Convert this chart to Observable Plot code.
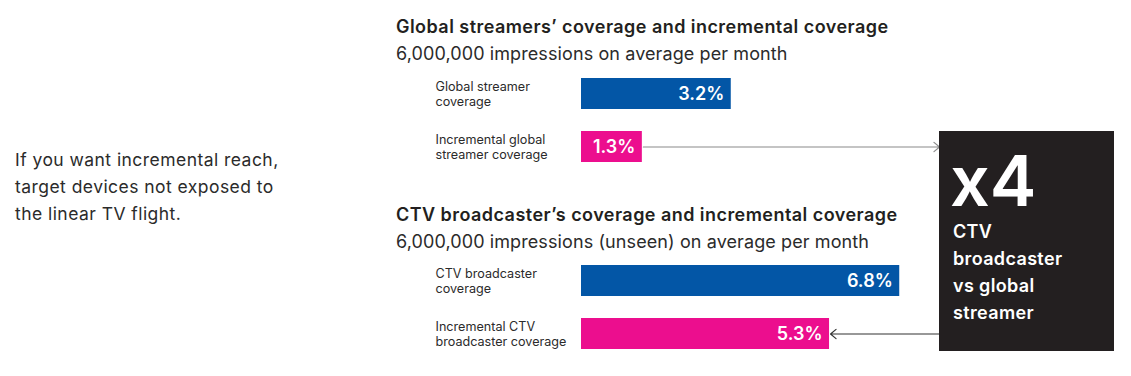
<!DOCTYPE html>
<html>
<head>
<meta charset="utf-8">
<script src="https://cdn.jsdelivr.net/npm/d3@7"></script>
<script src="https://cdn.jsdelivr.net/npm/@observablehq/plot@0.6"></script>
<style>
  html, body { margin: 0; padding: 0; background: #fff; }
  #wrap { position: relative; width: 1131px; height: 376px; overflow: hidden; font-family: Inter, "Noto Sans", sans-serif; color: #231f20; }
  #wrap svg { position: absolute; left: 0; top: 0; }
  .abs { position: absolute; white-space: nowrap; }
  .title { font-weight: 600; font-size: 18px; line-height: 18px; letter-spacing: 0.45px; color: #231f20; }
  .sub { font-weight: 400; font-size: 18px; line-height: 18px; letter-spacing: 0.1px; color: #2b2b2b; }
  .intro { font-size: 17.5px; line-height: 27px; letter-spacing: 0.45px; color: #2b2b2b; }
  #box { position: absolute; background: #231f20; color: #fff; }
  .big { font-weight: 600; font-size: 70px; line-height: 70px; color: #fff; }
  .boxtxt { font-weight: 600; font-size: 18px; line-height: 27px; letter-spacing: 0.35px; color: #fff; }
</style>
</head>
<body>
<div id="wrap"></div>
<script>
// ---- data ----
const groups = ["global", "ctv"];
const groupTitles = ["Global streamers’ coverage and incremental coverage", "CTV broadcaster’s coverage and incremental coverage"];
const groupSubtitles = ["6,000,000 impressions on average per month", "6,000,000 impressions (unseen) on average per month"];
const rowKeys = ["coverage", "incremental"];
const barLabels = ["Global streamer\ncoverage", "Incremental global\nstreamer coverage", "CTV broadcaster\ncoverage", "Incremental CTV\nbroadcaster coverage"];
const values = [3.2, 1.3, 6.8, 5.3];
const introLines = ["If you want incremental reach,", "target devices not exposed to", "the linear TV flight."];
const calloutBig = "x4";
const calloutLines = ["CTV", "broadcaster", "vs global", "streamer"];

// ---- layout ----
const W = 1131, H = 376;
const xOrigin = 581, pxPerUnit = 46.8, xMax = 11;
const box = {left: 939, top: 131, width: 175, height: 220};
const boxValue = (box.left - xOrigin) / pxPerUnit;
const blue = "#0356a6", pink = "#ec0e8e";
const font = "Inter, 'Noto Sans', sans-serif";

const rows = values.map((v, i) => ({
  group: groups[Math.floor(i / 2)],
  row: rowKeys[i % 2],
  label: barLabels[i],
  value: v,
  text: d3.format(".1f")(v) + "%"
}));
const arrowOut = [{group: groups[0], row: rowKeys[1], from: values[1], to: boxValue}];
const arrowIn = [{group: groups[1], row: rowKeys[1], from: boxValue, to: values[3]}];

const chart = Plot.plot({
  width: W, height: H,
  marginLeft: 435, marginRight: 0, marginTop: 56, marginBottom: 4,
  style: {fontFamily: font, background: "transparent", overflow: "visible"},
  x: {domain: [0, xMax], range: [xOrigin, xOrigin + xMax * pxPerUnit], axis: null},
  y: {domain: rowKeys, padding: 0.41, axis: null},
  fy: {domain: groups, paddingInner: 0.311, paddingOuter: 0, axis: null},
  color: {domain: rowKeys, range: [blue, pink]},
  marks: [
    Plot.barX(rows, {x: "value", y: "row", fy: "group", fill: "row"}),
    Plot.text(rows, {x: "value", y: "row", fy: "group", text: "text", textAnchor: "end", dx: -7, fill: "#fff", fontWeight: 600, fontSize: 18, style: "letter-spacing:0.3px"}),
    Plot.text(rows, {y: "row", fy: "group", text: "label", frameAnchor: "left", textAnchor: "start", lineAnchor: "middle", lineHeight: 1.2, fontSize: 12.6, fill: "#2b2b2b"}),
    Plot.arrow(arrowOut, {x1: "from", x2: "to", y1: "row", y2: "row", fy: "group", stroke: "#8a8a8a", strokeWidth: 1.2, headLength: 9, headAngle: 80, insetStart: 1, insetEnd: 0}),
    Plot.arrow(arrowIn, {x1: "from", x2: "to", y1: "row", y2: "row", fy: "group", stroke: "#333", strokeWidth: 1.2, headLength: 9, headAngle: 80, insetStart: 0, insetEnd: 1})
  ]
});

const wrap = document.getElementById("wrap");
wrap.appendChild(chart);

function addText(cls, text, left, top) {
  const d = document.createElement("div");
  d.className = "abs " + cls;
  d.style.left = left + "px";
  d.style.top = top + "px";
  d.textContent = text;
  wrap.appendChild(d);
  return d;
}
addText("title", groupTitles[0], 396, 18);
addText("sub", groupSubtitles[0], 396, 44.5);
addText("title", groupTitles[1], 396, 206);
addText("sub", groupSubtitles[1], 396, 232.5);
introLines.forEach((t, i) => addText("intro", t, 15, 146 + i * 27));

const b = document.createElement("div");
b.id = "box";
b.style.left = box.left + "px"; b.style.top = box.top + "px";
b.style.width = box.width + "px"; b.style.height = box.height + "px";
wrap.appendChild(b);
addText("big", calloutBig, 950, 145.5);
calloutLines.forEach((t, i) => addText("boxtxt", t, 953, 218 + i * 27));
</script>
</body>
</html>
